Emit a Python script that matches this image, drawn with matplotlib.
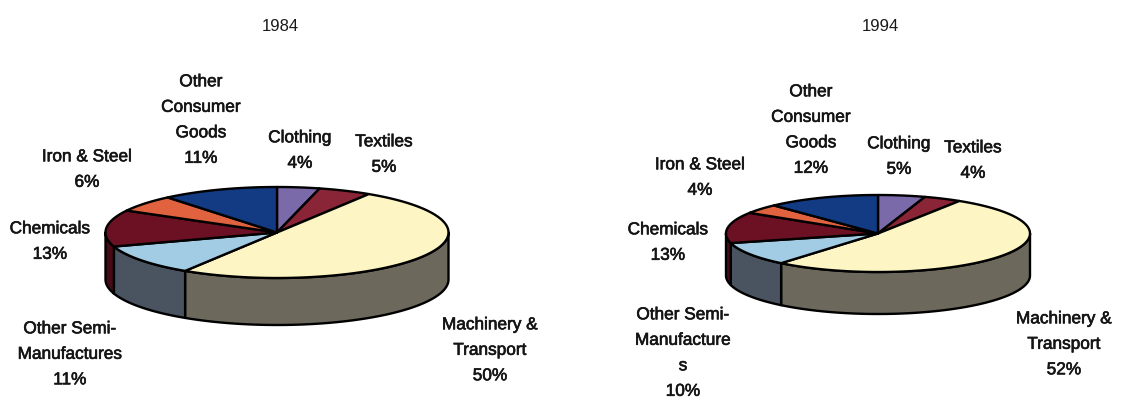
import numpy as np
import matplotlib
matplotlib.use("Agg")
import matplotlib.pyplot as plt
import matplotlib.patheffects as pe
from matplotlib.patches import Polygon

plt.rcParams["font.family"] = ["Liberation Sans", "DejaVu Sans"]

# ---- data -------------------------------------------------------------
categories = ["Clothing", "Textiles", "Machinery & Transport",
              "Other Semi-Manufactures", "Chemicals", "Iron & Steel",
              "Other Consumer Goods"]
shares_1984 = [4, 5, 50, 11, 13, 6, 11]
shares_1994 = [5, 4, 52, 10, 13, 4, 12]
years = ["1984", "1994"]

# label text (line breaks as printed)
labels_1984 = ["Clothing", "Textiles", "Machinery &\nTransport",
               "Other Semi-\nManufactures", "Chemicals", "Iron & Steel",
               "Other\nConsumer\nGoods"]
labels_1994 = ["Clothing", "Textiles", "Machinery &\nTransport",
               "Other Semi-\nManufacture\ns", "Chemicals", "Iron & Steel",
               "Other\nConsumer\nGoods"]

top_colors = ["#7b6aa9", "#8a2437", "#fdf6c4", "#a2cce3",
              "#6c1024", "#e0623f", "#123b84"]
side_colors = ["#4f4470", "#5c1824", "#6c685c", "#4a5360",
               "#470b18", "#9a4029", "#0b2658"]

# ---- layout (pixel space) ----------------------------------------------
W, H = 1125, 398
fig = plt.figure(figsize=(W / 100, H / 100), dpi=100)
ax = fig.add_axes([0, 0, 1, 1])
ax.set_xlim(0, W)
ax.set_ylim(H, 0)
ax.axis("off")

pies = [
    dict(cx=277, cy=232.5, a=171.5, b=45.5, depth=47, title_x=280,
         label_pos=[(300, 136), (384, 140), (490, 323), (70, 327),
                    (50, 227), (87, 155), (201, 80)]),
    dict(cx=878, cy=233.5, a=152, b=38.5, depth=42, title_x=880,
         label_pos=[(899, 142), (973, 146), (1064, 317), (683, 313),
                    (668, 228), (700, 163), (811, 90)]),
]
line_step = 25.5
ink = [pe.withStroke(linewidth=0.45, foreground="#151515")]


def arc(cx, cy, a, b, t0, t1, n=120, dy=0.0):
    t = np.radians(np.linspace(t0, t1, n))
    return np.column_stack([cx + a * np.sin(t), cy - b * np.cos(t) + dy])


def draw_pie(geo, shares, labels, year):
    cx, cy, a, b, d = geo["cx"], geo["cy"], geo["a"], geo["b"], geo["depth"]
    vals = np.asarray(shares, dtype=float)
    edges = np.concatenate([[0], np.cumsum(vals) / vals.sum() * 360.0])

    # front-facing side wall (angles 90..270 measured clockwise from top)
    for i in range(len(vals)):
        s0, s1 = max(edges[i], 90.0), min(edges[i + 1], 270.0)
        if s1 <= s0:
            continue
        upper = arc(cx, cy, a, b, s0, s1)
        lower = arc(cx, cy, a, b, s1, s0, dy=d)
        ax.add_patch(Polygon(np.vstack([upper, lower]), closed=True,
                             facecolor=side_colors[i], edgecolor="black",
                             linewidth=1.7, joinstyle="round"))

    # top face wedges
    for i in range(len(vals)):
        pts = np.vstack([[cx, cy], arc(cx, cy, a, b, edges[i], edges[i + 1])])
        ax.add_patch(Polygon(pts, closed=True, facecolor=top_colors[i],
                             edgecolor="black", linewidth=1.7,
                             joinstyle="round"))

    ax.text(geo["title_x"], 25 + 6, year, ha="center", va="baseline",
            fontsize=12, color="#1a1a1a")

    for i, (x, y) in enumerate(geo["label_pos"]):
        lines = labels[i].split("\n") + [f"{shares[i]}%"]
        for k, line in enumerate(lines):
            ax.text(x, y + k * line_step + 6.3, line, ha="center",
                    va="baseline", fontsize=12.4, color="#151515",
                    path_effects=ink)


draw_pie(pies[0], shares_1984, labels_1984, years[0])
draw_pie(pies[1], shares_1994, labels_1994, years[1])

fig.savefig("out.png", dpi=100, facecolor="white")
